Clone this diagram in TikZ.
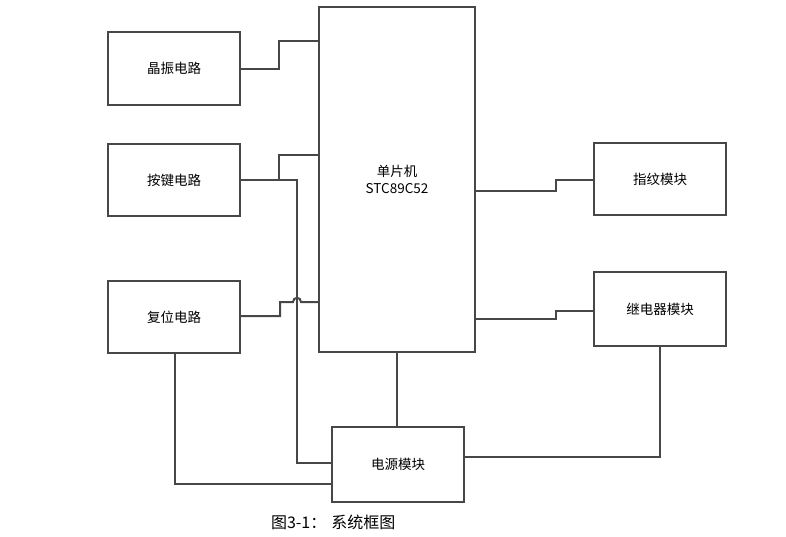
\documentclass[tikz,border=0pt]{standalone}
\usepackage{fontspec}
\newfontfamily\cjk{Noto Sans CJK SC}
\usetikzlibrary{calc}

\begin{document}
\begin{tikzpicture}[x=1pt,y=-1pt,line width=2pt]
    %
    % `block' is used for every module box.
    % `wire' is used for the connections.
    \tikzstyle{block} = [draw=black!72,fill=white,shape=rectangle,inner sep=0pt,font=\cjk\fontsize{13.5}{17}\selectfont,align=center]
    \tikzstyle{wire} = [draw=black!72,line width=2pt]
    \useasboundingbox (0,0) rectangle (786,536);
    %
    % Left column
    \node[block,minimum width=132,minimum height=73] (xtal) at (174,68.5) {晶振电路};
    \node[block,minimum width=132,minimum height=72] (keys) at (174,180) {按键电路};
    \node[block,minimum width=132,minimum height=72] (reset) at (174,317) {复位电路};
    %
    % Middle column
    \node[block,minimum width=156,minimum height=345] (mcu) at (397,179.5) {单片机\\STC89C52};
    \node[block,minimum width=132,minimum height=75] (power) at (398,464.5) {电源模块};
    %
    % Right column
    \node[block,minimum width=132,minimum height=72] (finger) at (660,179) {指纹模块};
    \node[block,minimum width=132,minimum height=74] (relay) at (660,309) {继电器模块};
    %
    % Inputs to the MCU
    \draw[wire] (xtal.east |- 0,69) -- (279,69) -- (279,41) -- (mcu.west |- 0,41);
    \draw[wire] (keys.east) -- (297,180) -- (297,463) -- (power.west |- 0,463);
    \draw[wire] (279,180) -- (279,155) -- (mcu.west |- 0,155);
    \draw[wire] (reset.east |- 0,316) -- (280,316) -- (280,302) -- (293,302)
        .. controls (293,296.5) and (301,296.5) .. (301,302) -- (mcu.west |- 0,302);
    %
    % Outputs of the MCU
    \draw[wire] (mcu.east |- 0,191) -- (556,191) -- (556,180) -- (finger.west |- 0,180);
    \draw[wire] (mcu.east |- 0,319) -- (556,319) -- (556,311) -- (relay.west |- 0,311);
    %
    % Power supply
    \draw[wire] (mcu.south) -- (mcu.south |- power.north);
    \draw[wire] (reset.south -| 175,0) -- (175,484) -- (power.west |- 0,484);
    \draw[wire] (power.east |- 0,457) -- (660,457) -- (relay.south);
    %
    % Caption
    \node[anchor=west,inner sep=0pt,font=\cjk\fontsize{16}{19}\selectfont] (caption) at (270,522) {图3-1：\hspace{5pt}系统框图};
    %
\end{tikzpicture}
\end{document}
